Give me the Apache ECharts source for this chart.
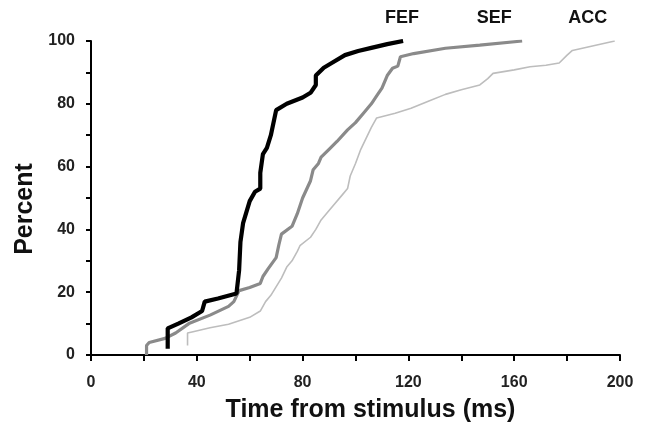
<!DOCTYPE html>
<html>
<head>
<meta charset="utf-8">
<script src="https://cdn.jsdelivr.net/npm/echarts@6/dist/echarts.min.js"></script>
<style>html,body{margin:0;padding:0;background:#fff}#c{width:647px;height:425px}</style>
</head>
<body>
<div id="c"></div>
<script>
// Time from stimulus (ms) vs cumulative percent
var fef = [[29,2],[29,8.5],[33,10],[38,12],[42,14],[43,17],[48,18],[55,19.6],[56,27],[56.5,36],[57.5,42],[60,49],[62,52],[64,53],[64,58],[65,64],[66.5,66],[68,70],[70,78],[74,80],[80,82],[83,83.5],[85,86],[85,89],[88,91.5],[91,93],[96,95.5],[101,96.8],[106,97.8],[112,99],[118,100]];
var sef = [[21,0],[21,3],[22,4],[28,5.3],[32,7],[37,10],[45,12.7],[52,15.5],[54,17],[56,20.5],[60,21.5],[64,22.8],[65,25],[67,27.5],[70,31],[71,35],[72,38.5],[76,41],[78,45],[80,50],[83,55.5],[84,59],[86,61],[87,63],[90,65.5],[93,68],[97,71.7],[100,74],[103,77],[106,80],[108,82.5],[110,85],[112,89],[114,91.3],[116,92],[117,95],[122,96],[134,97.7],[147,98.7],[163,100]];
var acc = [[36.5,3],[36.5,7],[39,7.5],[45,8.7],[52,9.8],[60,12],[64,14],[66,17],[68,19],[72,24.5],[74,28],[76,30],[78,33],[79,34.8],[83,37.5],[85,40],[87,43],[90,46],[92,48],[95,51],[97,53],[98,57],[100,61],[102,65.5],[104,69],[106,72.5],[108,75.5],[115,77],[121,78.6],[128,81],[134,83],[140,84.5],[147,86],[150,88],[152,89.7],[160,90.8],[166,91.8],[172,92.3],[177,93],[180,95.5],[182,97],[190,98.5],[198,100]];
var seriesNames = ['FEF','SEF','ACC'];
var xTicks = [0,40,80,120,160,200];
var yTicks = [0,20,40,60,80,100];

var FONT = '"Liberation Sans", Arial, sans-serif';
var chart = echarts.init(document.getElementById('c'), null, {renderer:'canvas'});
function nameMark(data, name, off){
  var last = data[data.length-1];
  return {
    symbol:'circle', symbolSize:0, silent:true,
    data:[{coord:last, value:name}],
    label:{show:true, position:'inside', offset:off, formatter:name,
      fontFamily:FONT, fontWeight:'bold', fontSize:18, color:'#111'}
  };
}
var option = {
  animation:false,
  backgroundColor:'#fff',
  grid:{left:91, right:27, top:41, bottom:70, containLabel:false, outerBoundsMode:'none'},
  xAxis:{
    type:'value', min:0, max:200, interval:20,
    name:'Time from stimulus (ms)', nameLocation:'middle', nameGap:43,
    nameTextStyle:{fontFamily:FONT, fontWeight:'bold', fontSize:25, color:'#111', padding:[0,0,0,30]},
    axisLine:{show:true, lineStyle:{color:'#000', width:2}},
    axisTick:{show:true, length:6, lineStyle:{color:'#000', width:2}},
    axisLabel:{margin:20, fontFamily:FONT, fontWeight:'bold', fontSize:16, color:'#222',
      formatter:function(v){return xTicks.indexOf(v)>=0 ? String(v) : '';}},
    splitLine:{show:false}
  },
  yAxis:{
    type:'value', min:0, max:100, interval:10,
    name:'Percent', nameLocation:'middle', nameGap:52, nameRotate:90,
    nameTextStyle:{fontFamily:FONT, fontWeight:'bold', fontSize:25, color:'#111', padding:[0,22,0,0]},
    axisLine:{show:true, lineStyle:{color:'#000', width:2}},
    axisTick:{show:true, length:5, lineStyle:{color:'#000', width:2}},
    axisLabel:{margin:16, fontFamily:FONT, fontWeight:'bold', fontSize:16, color:'#222',
      formatter:function(v){return yTicks.indexOf(v)>=0 ? String(v) : '';}},
    splitLine:{show:false}
  },
  series:[
    {name:seriesNames[2], type:'line', data:acc, showSymbol:false, symbol:'none', z:1,
      lineStyle:{color:'#bdbdbd', width:1.6}, markPoint:nameMark(acc, seriesNames[2], [-27,-23])},
    {name:seriesNames[1], type:'line', data:sef, showSymbol:false, symbol:'none', z:2,
      lineStyle:{color:'#8a8a8a', width:3.2}, markPoint:nameMark(sef, seriesNames[1], [-28,-23])},
    {name:seriesNames[0], type:'line', data:fef, showSymbol:false, symbol:'none', z:3,
      lineStyle:{color:'#000', width:4.2}, markPoint:nameMark(fef, seriesNames[0], [-1,-23])}
  ]
};
chart.setOption(option);
</script>
</body>
</html>
